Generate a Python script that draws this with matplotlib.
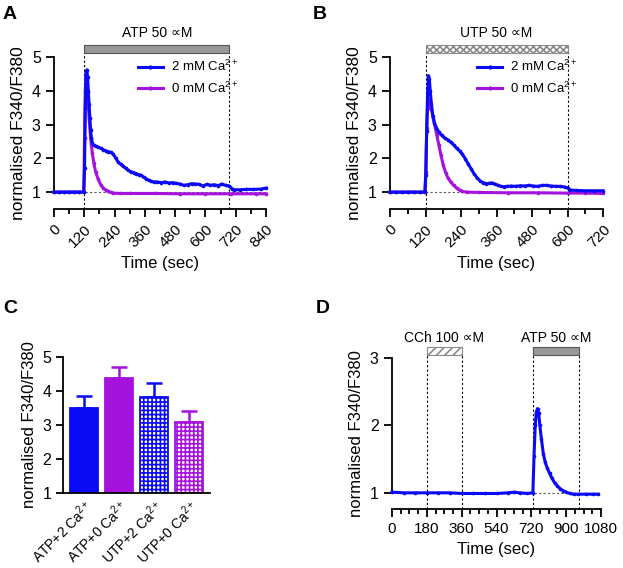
import matplotlib
matplotlib.use("Agg")
import matplotlib.pyplot as plt
from matplotlib.patches import Rectangle

plt.rcParams['font.family'] = ['Liberation Sans', 'DejaVu Sans']
plt.rcParams['mathtext.fontset'] = 'custom'
plt.rcParams['mathtext.rm'] = 'Liberation Sans'
plt.rcParams['mathtext.default'] = 'regular'
plt.rcParams['hatch.linewidth'] = 1.2

BLUE = '#0a0af5'
PURPLE = '#a512dc'

# ---- panel A : ATP 50 uM ----
time_a_2mM = [0, 20, 40, 60, 80, 100, 118, 121, 124, 127, 130, 133, 136, 139, 142, 145,
              148, 152, 158, 165, 175, 185, 195, 205, 215, 225, 235, 245, 255, 265, 275,
              285, 295, 305, 315, 325, 335, 345, 355, 365, 375, 385, 395, 410, 425, 440,
              455, 470, 485, 500, 515, 530, 545, 560, 575, 590, 605, 620, 635, 650, 665,
              680, 695, 705, 715, 735, 760, 790, 820, 840]
ratio_a_2mM = [1.0, 1.0, 1.0, 1.0, 1.0, 1.0, 1.0, 1.7, 3.5, 4.55, 4.62, 4.4, 4.0, 3.6, 3.2, 2.85,
               2.6, 2.45, 2.38, 2.36, 2.33, 2.3, 2.26, 2.22, 2.2, 2.18, 2.12, 2.0, 1.88, 1.82, 1.76,
               1.7, 1.64, 1.6, 1.58, 1.55, 1.52, 1.5, 1.44, 1.4, 1.35, 1.32, 1.3, 1.3, 1.28, 1.3,
               1.27, 1.28, 1.26, 1.24, 1.2, 1.22, 1.25, 1.24, 1.23, 1.18, 1.23, 1.2, 1.22, 1.19, 1.24,
               1.2, 1.18, 1.1, 1.07, 1.07, 1.08, 1.08, 1.09, 1.12]
time_a_0mM = [0, 20, 40, 60, 80, 100, 118, 121, 124, 127, 130, 133, 136, 139, 142, 145,
              148, 152, 158, 165, 175, 185, 195, 205, 215, 225, 235, 260, 300, 400, 500,
              600, 700, 800, 840]
ratio_a_0mM = [1.0, 1.0, 1.0, 1.0, 1.0, 1.0, 1.0, 2.6, 4.0, 4.45, 4.35, 3.95, 3.55, 3.2, 2.9, 2.6,
               2.4, 2.15, 1.85, 1.6, 1.38, 1.22, 1.12, 1.06, 1.02, 0.99, 0.97, 0.96, 0.96, 0.96, 0.95,
               0.95, 0.95, 0.95, 0.95]

# ---- panel B : UTP 50 uM ----
time_b_2mM = [0, 20, 40, 60, 80, 100, 118, 121, 124, 127, 130, 133, 136, 140, 145, 150,
              157, 165, 175, 185, 195, 205, 215, 225, 235, 245, 255, 265, 275, 285, 295,
              305, 315, 325, 335, 345, 355, 365, 375, 385, 395, 410, 425, 440, 455, 470,
              485, 500, 515, 530, 545, 560, 575, 590, 600, 610, 630, 660, 690, 720]
ratio_b_2mM = [1.0, 1.0, 1.0, 1.0, 1.0, 1.0, 1.0, 1.5, 2.8, 3.9, 4.45, 4.35, 4.0, 3.6, 3.25, 3.05,
               2.9, 2.78, 2.68, 2.6, 2.55, 2.48, 2.4, 2.3, 2.22, 2.12, 1.98, 1.82, 1.68, 1.53, 1.42,
               1.33, 1.28, 1.25, 1.26, 1.27, 1.24, 1.2, 1.17, 1.16, 1.17, 1.18, 1.17, 1.19, 1.18, 1.2,
               1.18, 1.17, 1.2, 1.2, 1.18, 1.17, 1.17, 1.15, 1.13, 1.06, 1.05, 1.04, 1.04, 1.04]
time_b_0mM = [0, 20, 40, 60, 80, 100, 118, 121, 124, 127, 130, 134, 140, 146, 152, 158,
              165, 172, 180, 188, 196, 205, 215, 225, 235, 245, 260, 300, 400, 500, 600,
              660, 720]
ratio_b_0mM = [1.0, 1.0, 1.0, 1.0, 1.0, 1.0, 1.0, 1.6, 2.9, 3.5, 3.75, 3.7, 3.45, 3.2, 2.95, 2.7,
               2.4, 2.1, 1.8, 1.58, 1.42, 1.3, 1.2, 1.12, 1.06, 1.02, 1.0, 0.99, 0.98, 0.98, 0.97,
               0.97, 0.96]

# ---- panel C : peak responses ----
groups = ['ATP+2 Ca$^{2+}$', 'ATP+0 Ca$^{2+}$', 'UTP+2 Ca$^{2+}$', 'UTP+0 Ca$^{2+}$']
peak_mean = [3.5, 4.37, 3.83, 3.08]
peak_sem = [0.35, 0.33, 0.4, 0.32]

# ---- panel D : CCh then ATP ----
time_d = [0, 60, 120, 180, 240, 300, 360, 420, 480, 540, 600, 630, 660, 700, 728, 734,
          740, 746, 752, 758, 764, 772, 782, 792, 802, 814, 826, 840, 855, 870, 885,
          900, 920, 940, 960, 1000, 1040, 1065]
ratio_d = [1.01, 1.0, 1.0, 1.0, 1.0, 1.0, 0.99, 0.99, 0.99, 0.99, 1.0, 1.01, 1.0, 0.99, 1.0, 1.55,
           2.0, 2.2, 2.25, 2.18, 2.0, 1.8, 1.58, 1.45, 1.37, 1.29, 1.22, 1.15, 1.1, 1.06, 1.03,
           1.01, 0.99, 0.98, 0.98, 0.98, 0.98, 0.98]


def style_trace_axes(ax, xmax, xstep, ymin, ytop, yticks):
    for s in ['top', 'right']:
        ax.spines[s].set_visible(False)
    ax.spines['left'].set_bounds(1, ytop)
    ax.spines['bottom'].set_bounds(0, xmax)
    ax.set_xlim(0, xmax)
    ax.set_ylim(ymin, ytop)
    ax.set_yticks(yticks)
    ax.set_xticks(range(0, xmax + 1, xstep))
    ax.set_xticks(range(0, xmax + 1, xstep // 2), minor=True)
    ax.tick_params(width=1.3, length=6)
    ax.tick_params(which='minor', width=1.3, length=3.5)
    for s in ['left', 'bottom']:
        ax.spines[s].set_linewidth(1.3)
    ax.axhline(1, color='0.35', ls=(0, (2, 2)), lw=0.8, zorder=1)


def stim_bar(ax, x0, x1, y0, h, label, ytext, **kw):
    ax.add_patch(Rectangle((x0, y0), x1 - x0, h, clip_on=False, **kw))
    ax.text((x0 + x1) / 2, ytext, label, ha='center', va='bottom', fontsize=10)
    ylo = ax.get_ylim()[0]
    for x in (x0, x1):
        ax.plot([x, x], [ylo, y0], color='k', ls=(0, (2, 2)), lw=0.8, clip_on=False, zorder=1)


fig = plt.figure(figsize=(6.23, 5.68), dpi=100)
W, H = 623, 568


def px_axes(left, right, top, bottom):
    return fig.add_axes([left / W, 1 - bottom / H, (right - left) / W, (bottom - top) / H])


trace_kw = dict(lw=2.2, marker='o', ms=1.6, clip_on=False, zorder=3)
legend_kw = dict(frameon=False, fontsize=9.5, loc='upper left', handlelength=1.9,
                 handletextpad=0.6, labelspacing=0.45, borderaxespad=0, borderpad=0,
                 markerscale=1.3)

# A
axA = px_axes(54, 266, 57, 209)
style_trace_axes(axA, 840, 120, 0.5, 5, [1, 2, 3, 4, 5])
axA.plot(time_a_0mM, ratio_a_0mM, color=PURPLE, label='0 mM Ca$^{2+}$', **trace_kw)
axA.plot(time_a_2mM, ratio_a_2mM, color=BLUE, label='2 mM Ca$^{2+}$', **trace_kw)
stim_bar(axA, 120, 695, 5.12, 0.24, 'ATP 50 \u221dM', 5.5,
         facecolor='#999999', edgecolor='#555555', lw=0.8)
h, l = axA.get_legend_handles_labels()
axA.legend(h[::-1], l[::-1], bbox_to_anchor=(0.395, 0.985), **legend_kw)
axA.set_xlabel('Time (sec)', fontsize=12)
axA.set_ylabel('normalised F340/F380', fontsize=12.5)
plt.setp(axA.get_xticklabels(), rotation=45, ha='right', rotation_mode='anchor', fontsize=11)
plt.setp(axA.get_yticklabels(), fontsize=11.5)

# B
axB = px_axes(390, 603, 57, 209)
style_trace_axes(axB, 720, 120, 0.5, 5, [1, 2, 3, 4, 5])
axB.plot(time_b_0mM, ratio_b_0mM, color=PURPLE, label='0 mM Ca$^{2+}$', **trace_kw)
axB.plot(time_b_2mM, ratio_b_2mM, color=BLUE, label='2 mM Ca$^{2+}$', **trace_kw)
stim_bar(axB, 120, 600, 5.12, 0.24, 'UTP 50 \u221dM', 5.5,
         facecolor='white', edgecolor='#8a8a8a', hatch='xxxxx', lw=0.8)
h, l = axB.get_legend_handles_labels()
axB.legend(h[::-1], l[::-1], bbox_to_anchor=(0.41, 0.985), **legend_kw)
axB.set_xlabel('Time (sec)', fontsize=12)
axB.set_ylabel('normalised F340/F380', fontsize=12.5)
plt.setp(axB.get_xticklabels(), rotation=45, ha='right', rotation_mode='anchor', fontsize=11)
plt.setp(axB.get_yticklabels(), fontsize=11.5)

# C
axC = px_axes(63, 210, 357, 493)
colors_c = [BLUE, PURPLE, BLUE, PURPLE]
hatches_c = [None, None, '++++', '++++']
xpos = range(len(groups))
for i in xpos:
    solid = hatches_c[i] is None
    axC.bar(i, peak_mean[i] - 1, bottom=1, width=0.8,
            color=colors_c[i] if solid else 'white', edgecolor=colors_c[i],
            hatch=hatches_c[i], lw=1.3, zorder=2)
    axC.errorbar(i, peak_mean[i], yerr=[[0], [peak_sem[i]]], color=colors_c[i],
                 capsize=6, elinewidth=1.8, capthick=1.8, zorder=1)
axC.set_xlim(-0.6, 3.6)
axC.set_ylim(1, 5)
axC.set_yticks([1, 2, 3, 4, 5])
axC.set_xticks(list(xpos))
axC.set_xticklabels(groups, rotation=45, ha='right', rotation_mode='anchor', fontsize=10)
axC.tick_params(axis='x', length=0, pad=3)
axC.tick_params(axis='y', width=1.3, length=5, labelsize=11.5)
for s in ['top', 'right']:
    axC.spines[s].set_visible(False)
for s in ['left', 'bottom']:
    axC.spines[s].set_linewidth(1.3)
axC.set_ylabel('normalised F340/F380', fontsize=12)

# D
axD = px_axes(392, 601, 358, 509)
style_trace_axes(axD, 1080, 180, 0.76, 3, [1, 2, 3])
axD.set_xticks(range(0, 1081, 45), minor=True)
axD.plot(time_d, ratio_d, color=BLUE, **trace_kw)
stim_bar(axD, 180, 360, 3.044, 0.12, 'CCh 100 \u221dM', 3.2,
         facecolor='white', edgecolor='#8a8a8a', hatch='////', lw=0.8)
stim_bar(axD, 730, 965, 3.044, 0.12, 'ATP 50 \u221dM', 3.2,
         facecolor='#999999', edgecolor='#555555', lw=0.8)
axD.set_xlabel('Time (sec)', fontsize=12)
axD.set_ylabel('normalised F340/F380', fontsize=12)
plt.setp(axD.get_xticklabels(), fontsize=11)
plt.setp(axD.get_yticklabels(), fontsize=11.5)

for letter, x, y in [('A', 3, 6), ('B', 313, 6), ('C', 3, 300), ('D', 316, 300)]:
    fig.text(x / W, 1 - y / H, letter, fontsize=14, fontweight='bold', va='top', ha='left')

fig.savefig('out.png', dpi=100)
